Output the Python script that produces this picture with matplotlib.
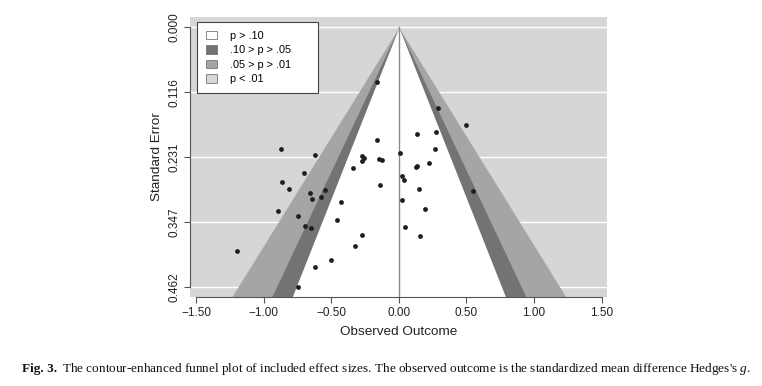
import numpy as np
import matplotlib
matplotlib.use("Agg")
import matplotlib.pyplot as plt
from matplotlib.patches import Patch

plt.rcParams["font.family"] = ["Liberation Sans", "DejaVu Sans"]
plt.rcParams["mathtext.fontset"] = "custom"
plt.rcParams["mathtext.it"] = "Liberation Serif:italic"

# observed outcome (Hedges's g) and standard error
g = [-0.160, -0.870, -0.623, 0.005, -0.271, -0.256, -0.271, -0.146, -0.126,
     -0.342, -0.704, 0.024, 0.037, -0.867, -0.138, -0.811, -0.545, -0.658,
     -0.579, -0.641, 0.024, -0.426, -0.892, -0.746, -0.458, -0.695, -0.653,
     0.044, -0.273, -0.325, -1.197, -0.500, -0.623, -0.746, -0.163,
     0.288, 0.500, 0.133, 0.273, 0.271, 0.224, 0.128, 0.138, 0.146, 0.552,
     0.197, 0.160]
se = [0.200, 0.217, 0.227, 0.2245, 0.229, 0.232, 0.238, 0.234, 0.236,
      0.251, 0.259, 0.264, 0.271, 0.275, 0.280, 0.287, 0.290, 0.295,
      0.302, 0.306, 0.308, 0.311, 0.326, 0.335, 0.343, 0.353, 0.357,
      0.355, 0.370, 0.389, 0.398, 0.415, 0.427, 0.462, 0.097,
      0.143, 0.173, 0.189, 0.186, 0.217, 0.242, 0.249, 0.246, 0.288, 0.292,
      0.324, 0.372]

se_max = 0.462
yticks = [0.0, 0.1155, 0.231, 0.3465, 0.462]
ytick_labels = ["0.000", "0.116", "0.231", "0.347", "0.462"]
xticks = [-1.5, -1.0, -0.5, 0.0, 0.5, 1.0, 1.5]
xtick_labels = ["\u22121.50", "\u22121.00", "\u22120.50", "0.00", "0.50", "1.00", "1.50"]

levels = [1.645, 1.960, 2.576]  # p = .10, .05, .01
legend_labels = ["p > .10", ".10 > p > .05", ".05 > p > .01", "p < .01"]

BG = "#d6d6d6"
DARK = "#737373"
MID = "#a5a5a5"

fig = plt.figure(figsize=(7.62, 3.86), dpi=100)
ax = fig.add_axes([190 / 762, 1 - 297 / 386, 417 / 762, 280 / 386])

ylo, yhi = -0.0185, 0.480
ax.set_xlim(-1.545, 1.54)
ax.set_ylim(yhi, ylo)
ax.set_facecolor(BG)

# white grid lines under the funnel
for t in yticks:
    ax.axhline(t, color="white", lw=1.0, zorder=1)

s = np.array([0.0, yhi])
cols = [MID, DARK, "white"]
for z, c in zip(levels[::-1], cols):
    ax.fill_betweenx(s, -z * s, z * s, color=c, lw=0, zorder=2)

ax.plot([0, 0], [0, yhi], color="#8c8c8c", lw=1.0, zorder=3)
ax.scatter(g, se, s=12, color="#1e1e1e", zorder=4, lw=0)

for side in ["top", "right"]:
    ax.spines[side].set_visible(False)
ax.spines["left"].set_bounds(0, se_max)
ax.spines["bottom"].set_bounds(-1.5, 1.5)
for side in ["left", "bottom"]:
    ax.spines[side].set_color("#555555")
    ax.spines[side].set_linewidth(0.8)

ax.set_xticks(xticks)
ax.set_xticklabels(xtick_labels)
ax.set_yticks(yticks)
ax.set_yticklabels(ytick_labels, rotation=90, va="center")
ax.tick_params(colors="#555555", labelcolor="#222222", labelsize=8.5, length=4, width=0.8)
ax.tick_params(axis="y", pad=2.5)
ax.set_xlabel("Observed Outcome", fontsize=9.7, color="#222222", labelpad=5)
ax.set_ylabel("Standard Error", fontsize=9.7, color="#222222", labelpad=4)

handles = [Patch(facecolor=c, edgecolor="#777777", lw=0.6) for c in ["white", DARK, MID, BG]]
lw_ax = (318 - 197) / 417
lh_ax = (93 - 22) / 280
leg = ax.legend(handles, legend_labels, loc="upper left",
                bbox_to_anchor=(0.017, 0.982 - lh_ax, lw_ax, lh_ax), mode="expand",
                borderaxespad=0, fancybox=False, framealpha=1, edgecolor="#444444",
                fontsize=7.8, handlelength=1.0, handleheight=0.85, labelspacing=0.4,
                borderpad=0.8, handletextpad=1.2)
leg.get_frame().set_linewidth(0.8)
leg.set_zorder(5)

fig.text(22 / 762, 1 - 369 / 386, "Fig. 3.", fontsize=9.5, fontweight="bold",
         family="Liberation Serif", va="center", color="#111111")
fig.text(62 / 762, 1 - 369 / 386,
         "The contour-enhanced funnel plot of included effect sizes. The observed outcome is "
         "the standardized mean difference Hedges's $g$.",
         fontsize=9.55, family="Liberation Serif", va="center", color="#111111")

fig.savefig("out.png", dpi=100)
